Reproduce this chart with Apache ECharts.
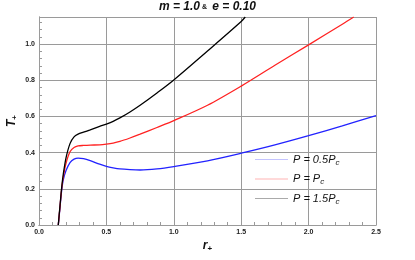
<!DOCTYPE html>
<html><head><meta charset="utf-8">
<script src="https://cdn.jsdelivr.net/npm/echarts@6/dist/echarts.min.js"></script>
<style>html,body{margin:0;padding:0;background:#fff}#c{width:415px;height:260px}</style>
</head><body><div id="c"></div>
<script>
var rBlue = [0.143,0.155,0.168,0.18,0.20,0.23,0.26,0.29,0.33,0.38,0.45,0.5,0.55,0.6,0.675,0.75,0.875,1.0,1.25,1.5,1.75,2.0,2.25,2.5];
var tBlue = [0,0.09,0.19,0.25,0.30,0.345,0.364,0.370,0.367,0.356,0.336,0.324,0.316,0.310,0.306,0.304,0.310,0.323,0.355,0.397,0.443,0.494,0.548,0.605];
var rRed = [0.143,0.155,0.168,0.18,0.20,0.23,0.26,0.29,0.33,0.38,0.45,0.5,0.55,0.6,0.675,0.75,0.875,1.0,1.25,1.5,1.75,2.0,2.25,2.335];
var tRed = [0,0.095,0.20,0.265,0.34,0.405,0.428,0.437,0.440,0.442,0.443,0.447,0.453,0.462,0.481,0.502,0.539,0.577,0.662,0.768,0.883,0.996,1.11,1.15];
var rBlack = [0.143,0.155,0.168,0.18,0.20,0.23,0.26,0.29,0.33,0.38,0.45,0.5,0.55,0.6,0.675,0.75,0.875,1.0,1.25,1.5,1.53];
var tBlack = [0,0.10,0.205,0.28,0.37,0.45,0.487,0.502,0.513,0.526,0.545,0.558,0.573,0.592,0.625,0.662,0.730,0.802,0.962,1.125,1.15];
var seriesNames = ['P = 0.5P_c','P = P_c','P = 1.5P_c'];
var xTicks = ['0.0','0.5','1.0','1.5','2.0','2.5'];
var yTicks = ['0.0','0.2','0.4','0.6','0.8','1.0'];

function pairs(xs, ys){ return xs.map(function(x,i){return [x, ys[i]];}); }
var chart = echarts.init(document.getElementById('c'), null, {renderer:'canvas'});
var gridC = '#9a9a9a';
var lab = {fontFamily:'Liberation Sans, Arial', fontWeight:'bold', fontSize:7, color:'#222'};
function mkLine(name, data, color){
  return {name:name, type:'line', data:data, symbol:'none', smooth:0.3, clip:true,
    lineStyle:{color:color, width:1.3}, itemStyle:{color:color}, xAxisIndex:0, yAxisIndex:0};
}
chart.setOption({
  animation:false,
  title:{text:'{i|m = 1.0}{a| & }{i| e = 0.10}', left:'center', top:1, padding:0,
    textStyle:{rich:{i:{fontFamily:'Liberation Sans, Arial', fontStyle:'italic', fontSize:12, color:'#111'},
                     a:{fontFamily:'Liberation Sans, Arial', fontSize:7, fontWeight:'bold', color:'#111'}}}},
  grid:{left:39, right:39, top:17, bottom:35, containLabel:false, outerBoundsMode:'none'},
  legend:{orient:'vertical', left:255, top:154, padding:0, itemWidth:33, itemHeight:1, itemGap:7, icon:'rect',
    data:[{name:seriesNames[0], itemStyle:{color:'#c4c4ff'}},
          {name:seriesNames[1], itemStyle:{color:'#ffb4b4'}},
          {name:seriesNames[2], itemStyle:{color:'#aaaaaa'}}],
    formatter:function(n){ var p=n.split('_'); return '{t|'+p[0]+'}{s|'+p[1]+'}'; },
    textStyle:{rich:{t:{fontFamily:'Liberation Sans, Arial', fontStyle:'italic', fontSize:11, color:'#111'},
                     s:{fontFamily:'Liberation Sans, Arial', fontStyle:'italic', fontSize:8, color:'#111', verticalAlign:'bottom', padding:[6,0,0,0]}}}},
  xAxis:[{type:'value', min:0, max:2.5, interval:0.5,
    name:'{r|r}{p|+}', nameLocation:'middle', nameGap:14, nameMoveOverlap:false,
    nameTextStyle:{rich:{r:{fontFamily:'Liberation Sans, Arial', fontStyle:'italic', fontWeight:'bold', fontSize:12, color:'#111'},
                         p:{fontFamily:'Liberation Sans, Arial', fontWeight:'bold', fontSize:8, color:'#111', padding:[6,0,0,0]}}},
    axisLine:{show:true, lineStyle:{color:gridC}}, axisTick:{show:true, inside:true, length:3, lineStyle:{color:gridC}},
    minorTick:{show:true, splitNumber:5, length:3, lineStyle:{color:gridC}},
    splitLine:{show:true, lineStyle:{color:gridC, width:1}},
    axisLabel:Object.assign({margin:4, formatter:function(v){var i=Math.round(v/0.5); return Math.abs(v-i*0.5)<1e-6 ? xTicks[i] : '';}}, lab)},
   {type:'value', min:0, max:2.5, interval:0.5, position:'top',
    axisLine:{show:true, lineStyle:{color:gridC}}, axisTick:{show:false},
    minorTick:{show:true, splitNumber:5, length:3, lineStyle:{color:gridC}},
    splitLine:{show:false}, axisLabel:{show:false}}],
  yAxis:[{type:'value', min:0, max:1.15, interval:0.2,
    name:'{r|T}{p|+}', nameLocation:'middle', nameGap:20, nameRotate:90, nameMoveOverlap:false,
    nameTextStyle:{rich:{r:{fontFamily:'Liberation Sans, Arial', fontStyle:'italic', fontWeight:'bold', fontSize:12, color:'#111'},
                         p:{fontFamily:'Liberation Sans, Arial', fontWeight:'bold', fontSize:8, color:'#111', padding:[6,0,0,0]}}},
    axisLine:{show:true, lineStyle:{color:gridC}}, axisTick:{show:true, inside:true, length:3, lineStyle:{color:gridC}},
    minorTick:{show:true, splitNumber:5, length:3, lineStyle:{color:gridC}},
    splitLine:{show:true, lineStyle:{color:gridC, width:1}},
    axisLabel:Object.assign({margin:4, formatter:function(v){var i=Math.round(v/0.2); return (Math.abs(v-i*0.2)<1e-6 && i<yTicks.length) ? yTicks[i] : '';}}, lab)},
   {type:'value', min:0, max:1.15, interval:0.2, position:'right',
    axisLine:{show:true, lineStyle:{color:gridC}}, axisTick:{show:false},
    minorTick:{show:true, splitNumber:5, length:3, lineStyle:{color:gridC}},
    splitLine:{show:false}, axisLabel:{show:false}}],
  series:[mkLine(seriesNames[0], pairs(rBlue,tBlue), '#2222ff'),
          mkLine(seriesNames[1], pairs(rRed,tRed), '#ff2222'),
          mkLine(seriesNames[2], pairs(rBlack,tBlack), '#000000')]
});
</script></body></html>
